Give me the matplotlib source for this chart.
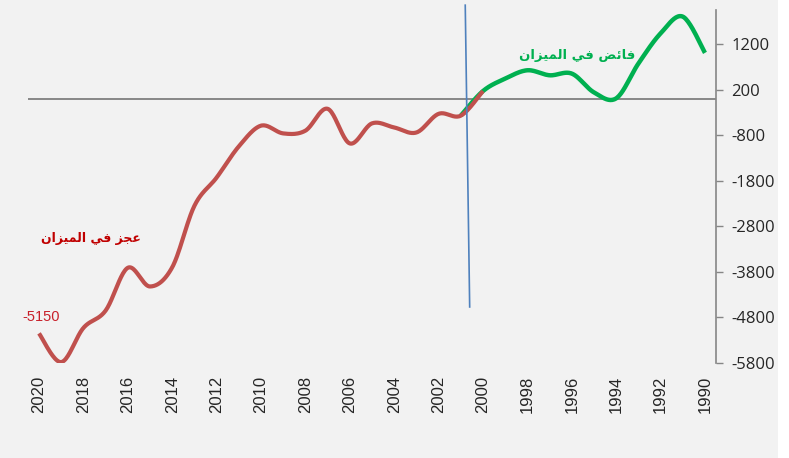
import numpy as np
import matplotlib
matplotlib.use('Agg')
import matplotlib.pyplot as plt
from matplotlib.patches import Rectangle

# deficit years (red) and surplus years (green)
years_deficit = list(range(2020, 1999, -1))
deficit = [-5150, -5780, -5030, -4650, -3710, -4120, -3700, -2350, -1730, -1045,
           -590, -760, -700, -220, -980, -540, -630, -740, -330, -370, 170]

years_surplus = list(range(2001, 1989, -1))
surplus = [-370, 170, 443, 626, 516, 553, 140, 10, 774, 1436, 1803, 1008]

# the blue divider line (drawn by hand in the original)
divider_x = [2000.8, 2000.6]
divider_y = [2055, -4570]

year_ticks = list(range(2020, 1989, -2))
value_ticks = [1200, 200, -800, -1800, -2800, -3800, -4800, -5800]

label_deficit = 'عجز في الميزان'
label_surplus = 'فائض في الميزان'
first_value_label = '-5150'

# arabic letters -> (isolated, final, initial, medial)
forms = {
    'ا': ('\ufe8d', '\ufe8e', None, None),
    'ل': ('\ufedd', '\ufede', '\ufedf', '\ufee0'),
    'م': ('\ufee1', '\ufee2', '\ufee3', '\ufee4'),
    'ي': ('\ufef1', '\ufef2', '\ufef3', '\ufef4'),
    'ز': ('\ufeaf', '\ufeb0', None, None),
    'ن': ('\ufee5', '\ufee6', '\ufee7', '\ufee8'),
    'ع': ('\ufec9', '\ufeca', '\ufecb', '\ufecc'),
    'ج': ('\ufe9d', '\ufe9e', '\ufe9f', '\ufea0'),
    'ف': ('\ufed1', '\ufed2', '\ufed3', '\ufed4'),
    'ئ': ('\ufe89', '\ufe8a', '\ufe8b', '\ufe8c'),
    'ض': ('\ufebd', '\ufebe', '\ufebf', '\ufec0'),
}


def shape(text):
    # matplotlib does no arabic shaping, so pick the joined forms and reverse
    out = []
    for i, c in enumerate(text):
        if c not in forms:
            out.append(c)
            continue
        prev = text[i - 1] if i > 0 else None
        nxt = text[i + 1] if i + 1 < len(text) else None
        join_prev = prev in forms and forms[prev][2] is not None
        join_next = nxt in forms and forms[c][2] is not None
        iso, fin, ini, med = forms[c]
        if join_prev and join_next:
            out.append(med)
        elif join_prev:
            out.append(fin)
        elif join_next:
            out.append(ini)
        else:
            out.append(iso)
    return ''.join(reversed(out))


def smooth(x, y, n=24):
    # excel style smoothed line (catmull-rom as cubic bezier)
    x = np.asarray(x, float)
    y = np.asarray(y, float)
    px = np.concatenate([[x[0]], x, [x[-1]]])
    py = np.concatenate([[y[0]], y, [y[-1]]])
    t = np.linspace(0, 1, n)[:, None]
    xs, ys = [], []
    for i in range(1, len(px) - 2):
        p0 = np.array([px[i], py[i]])
        p3 = np.array([px[i + 1], py[i + 1]])
        c1 = p0 + (np.array([px[i + 1], py[i + 1]]) - np.array([px[i - 1], py[i - 1]])) / 6
        c2 = p3 - (np.array([px[i + 2], py[i + 2]]) - np.array([px[i], py[i]])) / 6
        pts = ((1 - t) ** 3) * p0 + 3 * ((1 - t) ** 2) * t * c1 + 3 * (1 - t) * t ** 2 * c2 + t ** 3 * p3
        xs.append(pts[:, 0])
        ys.append(pts[:, 1])
    return np.concatenate(xs), np.concatenate(ys)


fig = plt.figure(figsize=(7.89, 4.58), dpi=100, facecolor='#F2F2F2')
fig.patches.append(Rectangle((778 / 789, 0), 11 / 789, 1, transform=fig.transFigure,
                             facecolor='white', edgecolor='none', zorder=-1))
ax = fig.add_axes([27.9 / 789, 1 - 363 / 458, (716.1 - 27.9) / 789, (363 - 9.5) / 458])
ax.set_facecolor('#F2F2F2')

ax.axhline(0, color='#7F7F7F', lw=1.3, zorder=1)

gx, gy = smooth(years_surplus, surplus)
ax.plot(gx, gy, color='#00B050', lw=3.2, solid_capstyle='butt', zorder=2)
rx, ry = smooth(years_deficit, deficit)
ax.plot(rx, ry, color='#C0504D', lw=3.0, solid_capstyle='butt', zorder=3)

ax.plot(divider_x, divider_y, color='#4F81BD', lw=1.2, clip_on=False, zorder=4)

ax.set_xlim(2020.5, 1989.5)
ax.set_ylim(-5800, 1960)

ax.set_xticks(year_ticks)
ax.set_xticklabels([str(y) for y in year_ticks], rotation=90, fontsize=12,
                   family='Liberation Sans', color='#262626')
ax.tick_params(axis='x', length=0, pad=9)

ax.yaxis.tick_right()
ax.set_yticks(value_ticks)
ax.set_yticklabels([str(v) for v in value_ticks], fontsize=12, family='Open Sans',
                   color='#262626')
ax.tick_params(axis='y', direction='out', length=5, width=1, color='#868686', pad=6)

for s in ['left', 'top', 'bottom']:
    ax.spines[s].set_visible(False)
ax.spines['right'].set_color('#868686')
ax.spines['right'].set_linewidth(1.2)

ax.text(2017.66, -3060, shape(label_deficit), color='#C00000', fontsize=9,
        fontweight='bold', family='DejaVu Sans', ha='center', va='center')
ax.text(1995.75, 950, shape(label_surplus), color='#00B050', fontsize=9.5,
        fontweight='bold', family='DejaVu Sans', ha='center', va='center')
ax.text(2019.9, -4790, first_value_label, color='#C8202A', fontsize=10.5,
        family='Liberation Sans', ha='center', va='center')

plt.savefig('out.png', dpi=100, facecolor=fig.get_facecolor())
